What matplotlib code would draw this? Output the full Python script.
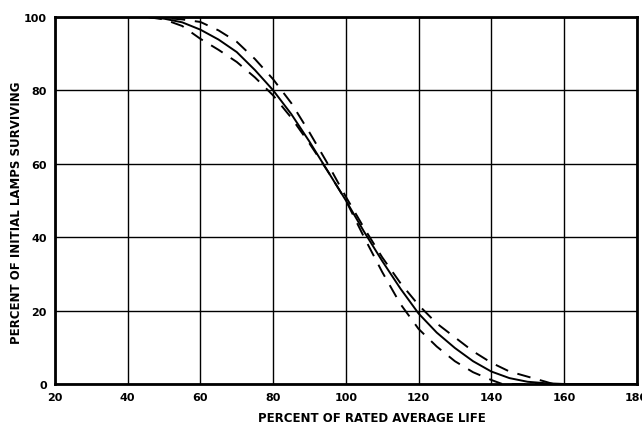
import matplotlib.pyplot as plt

# Lamp mortality curve
life_solid = [20, 45, 50, 55, 60, 65, 70, 75, 80, 85, 90, 95, 100, 105, 110, 115, 120,
              125, 130, 135, 140, 145, 150, 155, 160, 180]
surv_solid = [100, 100, 99.5, 98.5, 96.5, 93.8, 90.4, 85.5, 80, 73.5, 66, 58, 50, 41.5, 33.5, 26, 19.2,
              14, 9.8, 6.2, 3.4, 1.6, 0.6, 0.2, 0, 0]

life_upper = [20, 45, 50, 55, 60, 65, 70, 75, 80, 85, 90, 95, 100, 105, 110, 115, 120,
              125, 130, 135, 140, 145, 150, 155, 157, 180]
surv_upper = [100, 100, 99.7, 99.3, 98.6, 96.3, 93.2, 88.5, 83, 76.5, 68.5, 60, 51, 42.5, 34.5, 27.5, 21.5,
              16.5, 12.7, 8.9, 5.8, 3.4, 2.0, 0.6, 0, 0]

life_lower = [20, 45, 50, 55, 60, 65, 70, 75, 80, 85, 90, 95, 100, 105, 110, 115, 120,
              125, 130, 135, 140, 143, 180]
surv_lower = [100, 100, 99.3, 97.5, 94, 91, 87.7, 83.5, 78.6, 72.5, 65.5, 58, 50, 40, 30.5, 21.8, 15,
              10.2, 6.2, 3.2, 1.1, 0, 0]

x_ticks = [20, 40, 60, 80, 100, 120, 140, 160, 180]
y_ticks = [0, 20, 40, 60, 80, 100]

fig = plt.figure(figsize=(6.42, 4.35), dpi=100)
ax = fig.add_axes([0.0857, 0.115, 0.906, 0.844])

ax.plot(life_solid, surv_solid, color="black", linewidth=1.4)
ax.plot(life_upper, surv_upper, color="black", linewidth=1.4, dashes=(7, 5))
ax.plot(life_lower, surv_lower, color="black", linewidth=1.4, dashes=(7, 5))

ax.set_xlim(20, 180)
ax.set_ylim(0, 100)
ax.set_xticks(x_ticks)
ax.set_yticks(y_ticks)
ax.set_xticklabels([str(v) for v in x_ticks], fontsize=8, fontweight="bold")
ax.set_yticklabels([str(v) for v in y_ticks], fontsize=8, fontweight="bold")
ax.tick_params(length=0, pad=6)
ax.grid(True, color="black", linewidth=1.0)
for s in ax.spines.values():
    s.set_linewidth(2)

fig.text(0.58, 0.022, "PERCENT OF RATED AVERAGE LIFE", ha="center", va="bottom",
         fontsize=8.5, fontweight="bold")
fig.text(0.025, 0.51, "PERCENT OF INITIAL LAMPS SURVIVING", ha="center", va="center",
         rotation=90, fontsize=8.5, fontweight="bold")

plt.savefig("out.png", dpi=100)
plt.close(fig)
